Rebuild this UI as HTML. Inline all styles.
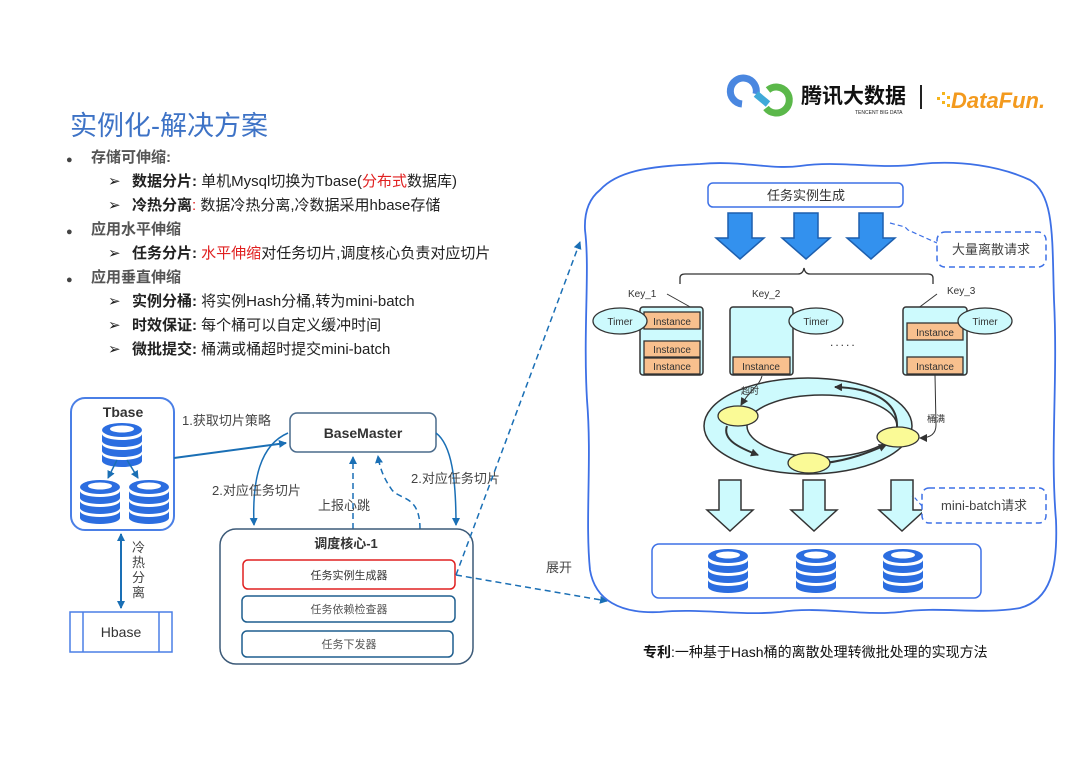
<!DOCTYPE html>
<html><head><meta charset="utf-8"><style>
body{margin:0;background:#fff;}
svg text{font-family:"Liberation Sans","Noto Sans CJK SC",sans-serif;}
</style></head><body>
<svg width="1080" height="764" viewBox="0 0 1080 764" xmlns="http://www.w3.org/2000/svg">
<defs>
<marker id="ab" markerWidth="8" markerHeight="8" refX="7" refY="4" orient="auto-start-reverse" markerUnits="userSpaceOnUse"><path d="M0,0 L8,4 L0,8 z" fill="#1a6fb5"/></marker>
<marker id="ak" markerWidth="8" markerHeight="8" refX="7" refY="4" orient="auto" markerUnits="userSpaceOnUse"><path d="M0,0 L8,4 L0,8 z" fill="#333"/></marker>
<g id="db">
<ellipse cx="0" cy="-16" rx="20" ry="7" fill="#2b6de0"/><ellipse cx="0" cy="-17" rx="12" ry="3.5" fill="#fff"/>
<path d="M-20,-12 v7 a20,6 0 0 0 40,0 v-7 a20,6 0 0 1 -40,0z" fill="#2b6de0"/>
<path d="M-20,-2 v7 a20,6 0 0 0 40,0 v-7 a20,6 0 0 1 -40,0z" fill="#2b6de0"/>
<path d="M-20,8 v7 a20,6 0 0 0 40,0 v-7 a20,6 0 0 1 -40,0z" fill="#2b6de0"/>
</g>
<g id="bigarrow"><path d="M-12,0 h24 v25 h12 l-24,21 l-24,-21 h12z" fill="#3391ee" stroke="#1d5fae" stroke-width="1.5"/></g>
<g id="lightarrow"><path d="M-11,0 h22 v30 h12 l-23,21 l-23,-21 h12z" fill="#cdfafd" stroke="#333" stroke-width="1.5"/></g>
</defs>

<text x="70" y="135" font-size="27" fill="#3e73c6">实例化-解决方案</text>
<g font-size="15" fill="#222">
<text x="66" y="163" font-size="11" fill="#444">●</text>
<text x="91" y="162" font-weight="bold" fill="#555">存储可伸缩:</text>
<text x="108" y="186">➢</text><text x="132" y="186"><tspan font-weight="bold">数据分片:</tspan> 单机Mysql切换为Tbase(<tspan fill="#e02020">分布式</tspan>数据库)</text>
<text x="108" y="210">➢</text><text x="132" y="210"><tspan font-weight="bold">冷热分离</tspan><tspan fill="#e02020">:</tspan> 数据冷热分离,冷数据采用hbase存储</text>
<text x="66" y="235" font-size="11" fill="#444">●</text>
<text x="91" y="234" font-weight="bold" fill="#555">应用水平伸缩</text>
<text x="108" y="258">➢</text><text x="132" y="258"><tspan font-weight="bold">任务分片:</tspan> <tspan fill="#e02020">水平伸缩</tspan>对任务切片,调度核心负责对应切片</text>
<text x="66" y="283" font-size="11" fill="#444">●</text>
<text x="91" y="282" font-weight="bold" fill="#555">应用垂直伸缩</text>
<text x="108" y="306">➢</text><text x="132" y="306"><tspan font-weight="bold">实例分桶:</tspan> 将实例Hash分桶,转为mini-batch</text>
<text x="108" y="330">➢</text><text x="132" y="330"><tspan font-weight="bold">时效保证:</tspan> 每个桶可以自定义缓冲时间</text>
<text x="108" y="354">➢</text><text x="132" y="354"><tspan font-weight="bold">微批提交:</tspan> 桶满或桶超时提交mini-batch</text>
</g>

<g>
<path d="M742,104 a13,13 0 1 1 14,-10" fill="none" stroke="#4a87e0" stroke-width="7"/>
<path d="M756,94 l12,10" stroke="#3fa9d8" stroke-width="7"/>
<path d="M768,90 a13,13 0 1 1 -2,18" fill="none" stroke="#5bb84a" stroke-width="7"/>
<text x="801" y="103" font-size="21" font-weight="bold" fill="#111">腾讯大数据</text>
<text x="855" y="114" font-size="5" fill="#222">TENCENT BIG DATA</text>
<rect x="920" y="85" width="2" height="24" fill="#222"/>
<g fill="#f6b51b"><rect x="937" y="97" width="3" height="3"/><rect x="942" y="92" width="3" height="3"/><rect x="942" y="101" width="3" height="3"/><rect x="947" y="96" width="3" height="3"/><rect x="947" y="104" width="3" height="3"/></g>
<text x="951" y="108" font-size="22" font-weight="bold" font-style="italic" fill="#f39a1e">DataFun.</text>
</g>

<rect x="71" y="398" width="103" height="132" rx="14" fill="#fff" stroke="#4a7fe6" stroke-width="2"/>
<text x="123" y="417" font-size="14" font-weight="bold" fill="#333" text-anchor="middle">Tbase</text>
<use href="#db" x="122" y="446"/>
<use href="#db" x="100" y="503"/>
<use href="#db" x="149" y="503"/>
<line x1="117" y1="460" x2="108" y2="478" stroke="#1a6fb5" stroke-width="1.5" marker-end="url(#ab)"/>
<line x1="127" y1="460" x2="138" y2="478" stroke="#1a6fb5" stroke-width="1.5" marker-end="url(#ab)"/>
<rect x="70" y="612" width="102" height="40" fill="#fff" stroke="#4a7fe6" stroke-width="1.5"/>
<line x1="83" y1="612" x2="83" y2="652" stroke="#4a7fe6" stroke-width="1.5"/>
<line x1="159" y1="612" x2="159" y2="652" stroke="#4a7fe6" stroke-width="1.5"/>
<text x="121" y="637" font-size="14" fill="#333" text-anchor="middle">Hbase</text>
<line x1="121" y1="534" x2="121" y2="608" stroke="#1a6fb5" stroke-width="2" marker-start="url(#ab)" marker-end="url(#ab)"/>
<g font-size="13" fill="#444"><text x="132" y="552">冷</text><text x="132" y="567">热</text><text x="132" y="582">分</text><text x="132" y="597">离</text></g>

<rect x="290" y="413" width="146" height="39" rx="7" fill="#fff" stroke="#4a6b8c" stroke-width="1.5"/>
<text x="363" y="438" font-size="14" font-weight="bold" fill="#333" text-anchor="middle">BaseMaster</text>
<line x1="174" y1="458" x2="286" y2="443" stroke="#1a6fb5" stroke-width="2" marker-end="url(#ab)"/>
<text x="182" y="425" font-size="13" fill="#444">1.获取切片策略</text>
<path d="M288,433 C260,445 252,480 254,525" fill="none" stroke="#1a6fb5" stroke-width="1.5" marker-end="url(#ab)"/>
<text x="212" y="495" font-size="13" fill="#444">2.对应任务切片</text>
<path d="M436,433 C452,445 456,480 456,525" fill="none" stroke="#1a6fb5" stroke-width="1.5" marker-end="url(#ab)"/>
<text x="411" y="483" font-size="13" fill="#444">2.对应任务切片</text>
<line x1="353" y1="529" x2="353" y2="457" stroke="#1a6fb5" stroke-width="1.5" stroke-dasharray="6,4" marker-end="url(#ab)"/>
<path d="M420,529 C420,495 400,500 392,490 C385,480 380,470 378,456" fill="none" stroke="#1a6fb5" stroke-width="1.5" stroke-dasharray="6,4" marker-end="url(#ab)"/>
<text x="318" y="510" font-size="13" fill="#444">上报心跳</text>

<rect x="220" y="529" width="253" height="135" rx="16" fill="#fff" stroke="#3c5a78" stroke-width="1.5"/>
<text x="346" y="548" font-size="13" font-weight="bold" fill="#333" text-anchor="middle">调度核心-1</text>
<rect x="243" y="560" width="212" height="29" rx="5" fill="#fff" stroke="#e02020" stroke-width="1.5"/>
<text x="349" y="579" font-size="11" fill="#333" text-anchor="middle">任务实例生成器</text>
<rect x="242" y="596" width="213" height="26" rx="5" fill="#fff" stroke="#1f5f8f" stroke-width="1.5"/>
<text x="349" y="613" font-size="11" fill="#555" text-anchor="middle">任务依赖检查器</text>
<rect x="242" y="631" width="211" height="26" rx="5" fill="#fff" stroke="#1f5f8f" stroke-width="1.5"/>
<text x="349" y="648" font-size="11" fill="#555" text-anchor="middle">任务下发器</text>

<line x1="456" y1="575" x2="580" y2="242" stroke="#1a6fb5" stroke-width="1.5" stroke-dasharray="6,4" marker-end="url(#ab)"/>
<line x1="456" y1="575" x2="607" y2="601" stroke="#1a6fb5" stroke-width="1.5" stroke-dasharray="6,4" marker-end="url(#ab)"/>
<text x="546" y="572" font-size="13" fill="#444">展开</text>

<path d="M600,190 C620,168 660,166 700,164 C740,160 770,170 800,166 C840,160 880,170 920,164 C960,160 1000,166 1030,180 C1055,195 1052,240 1054,300 C1058,380 1050,450 1056,520 C1058,570 1050,600 1020,608 C980,615 940,606 900,612 C860,616 820,606 780,612 C740,616 700,608 660,612 C620,614 595,600 590,570 C585,520 592,460 587,400 C583,330 590,270 585,230 C584,210 590,198 600,190 Z" fill="#fff" stroke="#3d70e6" stroke-width="1.8"/>

<rect x="708" y="183" width="195" height="24" rx="5" fill="#fff" stroke="#3d70e6" stroke-width="1.5"/>
<text x="806" y="200" font-size="13" fill="#333" text-anchor="middle">任务实例生成</text>
<use href="#bigarrow" x="740" y="213"/>
<use href="#bigarrow" x="806" y="213"/>
<use href="#bigarrow" x="871" y="213"/>
<path d="M890,223 L905,227 L908,230 L937,243" fill="none" stroke="#3d70e6" stroke-width="1.2" stroke-dasharray="5,3"/>
<rect x="937" y="232" width="109" height="35" rx="8" fill="#fff" stroke="#3d70e6" stroke-width="1.5" stroke-dasharray="6,4"/>
<text x="991" y="254" font-size="13" fill="#444" text-anchor="middle">大量离散请求</text>

<path d="M680,284 v-6 q0,-4 5,-4 h113 q5,0 6,-6 q1,6 6,6 h118 q5,0 5,4 v6" fill="none" stroke="#333" stroke-width="1.3"/>

<g font-size="10" fill="#333">
<text x="628" y="297">Key_1</text><text x="752" y="297">Key_2</text><text x="947" y="294">Key_3</text>
</g>
<line x1="667" y1="294" x2="701" y2="313" stroke="#333" stroke-width="1"/>
<line x1="937" y1="294" x2="905" y2="318" stroke="#333" stroke-width="1"/>
<rect x="640" y="307" width="63" height="68" rx="3" fill="#cdfafd" stroke="#333" stroke-width="1.5"/>
<rect x="730" y="307" width="63" height="68" rx="3" fill="#cdfafd" stroke="#333" stroke-width="1.5"/>
<rect x="903" y="307" width="64" height="68" rx="3" fill="#cdfafd" stroke="#333" stroke-width="1.5"/>
<g fill="#f8c08e" stroke="#333" stroke-width="1.3">
<rect x="644" y="312" width="56" height="17"/><rect x="644" y="341" width="56" height="16"/><rect x="644" y="358" width="56" height="16"/>
<rect x="733" y="357" width="57" height="17"/>
<rect x="907" y="323" width="56" height="17"/><rect x="907" y="357" width="56" height="17"/>
</g>
<g font-size="10" fill="#333" text-anchor="middle">
<text x="672" y="325">Instance</text><text x="672" y="353">Instance</text><text x="672" y="370">Instance</text>
<text x="761" y="370">Instance</text>
<text x="935" y="336">Instance</text><text x="935" y="370">Instance</text>
</g>
<g fill="#cdfafd" stroke="#333" stroke-width="1.3">
<ellipse cx="620" cy="321" rx="27" ry="13"/><ellipse cx="816" cy="321" rx="27" ry="13"/><ellipse cx="985" cy="321" rx="27" ry="13"/>
</g>
<g font-size="10" fill="#333" text-anchor="middle"><text x="620" y="325">Timer</text><text x="816" y="325">Timer</text><text x="985" y="325">Timer</text></g>
<text x="830" y="346" font-size="12" fill="#333" letter-spacing="2">.....</text>

<ellipse cx="808" cy="426" rx="104" ry="48" fill="#cdfafd" stroke="#333" stroke-width="1.5"/>
<ellipse cx="822" cy="426" rx="75" ry="31" fill="#fff" stroke="#333" stroke-width="1.5"/>
<path d="M897,427 C898,400 870,388 835,387" fill="none" stroke="#333" stroke-width="2" marker-end="url(#ak)"/>
<path d="M727,426 C722,440 740,448 758,455" fill="none" stroke="#333" stroke-width="2" marker-end="url(#ak)"/>
<path d="M825,463 C850,460 870,452 886,445" fill="none" stroke="#333" stroke-width="2" marker-end="url(#ak)"/>
<g fill="#fafa96" stroke="#333" stroke-width="1.3">
<ellipse cx="738" cy="416" rx="20" ry="10"/><ellipse cx="809" cy="463" rx="21" ry="10"/><ellipse cx="898" cy="437" rx="21" ry="10"/>
</g>
<path d="M762,376 C760,385 750,390 741,405" fill="none" stroke="#333" stroke-width="1" marker-end="url(#ak)"/>
<text x="741" y="394" font-size="9" fill="#333">超时</text>
<path d="M935,375 L936,425 C936,434 930,438 920,438" fill="none" stroke="#333" stroke-width="1" marker-end="url(#ak)"/>
<text x="927" y="422" font-size="9" fill="#333">桶满</text>

<use href="#lightarrow" x="730" y="480"/>
<use href="#lightarrow" x="814" y="480"/>
<use href="#lightarrow" x="902" y="480"/>
<path d="M922,506 L915,498 L912,496" fill="none" stroke="#3d70e6" stroke-width="1.2" stroke-dasharray="4,3"/>
<rect x="922" y="488" width="124" height="35" rx="7" fill="#fff" stroke="#3d70e6" stroke-width="1.5" stroke-dasharray="6,4"/>
<text x="984" y="510" font-size="13" fill="#444" text-anchor="middle">mini-batch请求</text>

<rect x="652" y="544" width="329" height="54" rx="7" fill="#fff" stroke="#3d70e6" stroke-width="1.5"/>
<use href="#db" x="728" y="572"/>
<use href="#db" x="816" y="572"/>
<use href="#db" x="903" y="572"/>

<text x="643" y="657" font-size="14" fill="#111"><tspan font-weight="bold">专利</tspan>:一种基于Hash桶的离散处理转微批处理的实现方法</text>
</svg>
</body></html>
